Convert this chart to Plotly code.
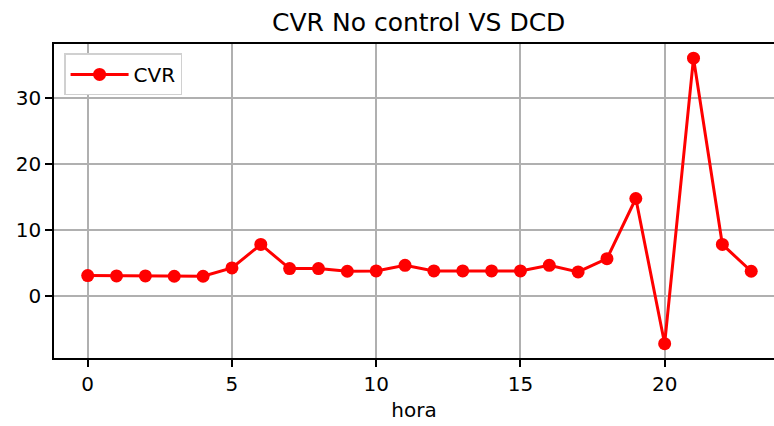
import plotly.graph_objects as go

hora = list(range(24))
cvr = [3.1, 3.05, 3.05, 3.0, 3.0, 4.25, 7.8, 4.15, 4.15, 3.75,
       3.8, 4.65, 3.8, 3.8, 3.8, 3.8, 4.65, 3.65, 5.65, 14.75,
       -7.2, 35.95, 7.8, 3.75]

fig = go.Figure()
fig.add_trace(go.Scatter(
    x=hora, y=cvr, mode="lines+markers", name="CVR",
    line=dict(color="red", width=3),
    marker=dict(color="red", size=13),
))

axis_common = dict(
    showgrid=True, gridcolor="#b0b0b0", gridwidth=1.6,
    showline=True, linecolor="black", linewidth=1.6,
    ticks="outside", ticklen=7, tickwidth=1.6, tickcolor="black",
    zeroline=False, tickfont=dict(size=20, color="black"),
    automargin=False,
)

# the original image is cut off on the right, so the right spine is not shown
fig.update_layout(
    width=774, height=426,
    margin=dict(l=54, r=0, t=44, b=68),
    paper_bgcolor="white", plot_bgcolor="white",
    font=dict(family="DejaVu Sans", color="black"),
    title=dict(text="CVR No control VS DCD", x=0.541, xanchor="center",
               yref="container", y=0.948, yanchor="middle", font=dict(size=25)),
    xaxis=dict(range=[-1.168, 23.79], tickvals=[0, 5, 10, 15, 20], mirror=True,
               title=dict(text="hora", font=dict(size=20), standoff=8), **axis_common),
    yaxis=dict(range=[-9.36, 38.1], tickvals=[0, 10, 20, 30], mirror=False, **axis_common),
    legend=dict(x=0.014, y=0.97, xanchor="left", yanchor="top",
                bgcolor="white", bordercolor="#d0d0d0", borderwidth=1.5,
                font=dict(size=20), itemwidth=58),
    showlegend=True,
)

# the page body has a default 8px margin; drop it so the figure sits at 0,0
fig.write_html(
    "out.html",
    config={"displayModeBar": False},
    post_script="document.body.style.margin='0';document.body.style.overflow='hidden';",
)
